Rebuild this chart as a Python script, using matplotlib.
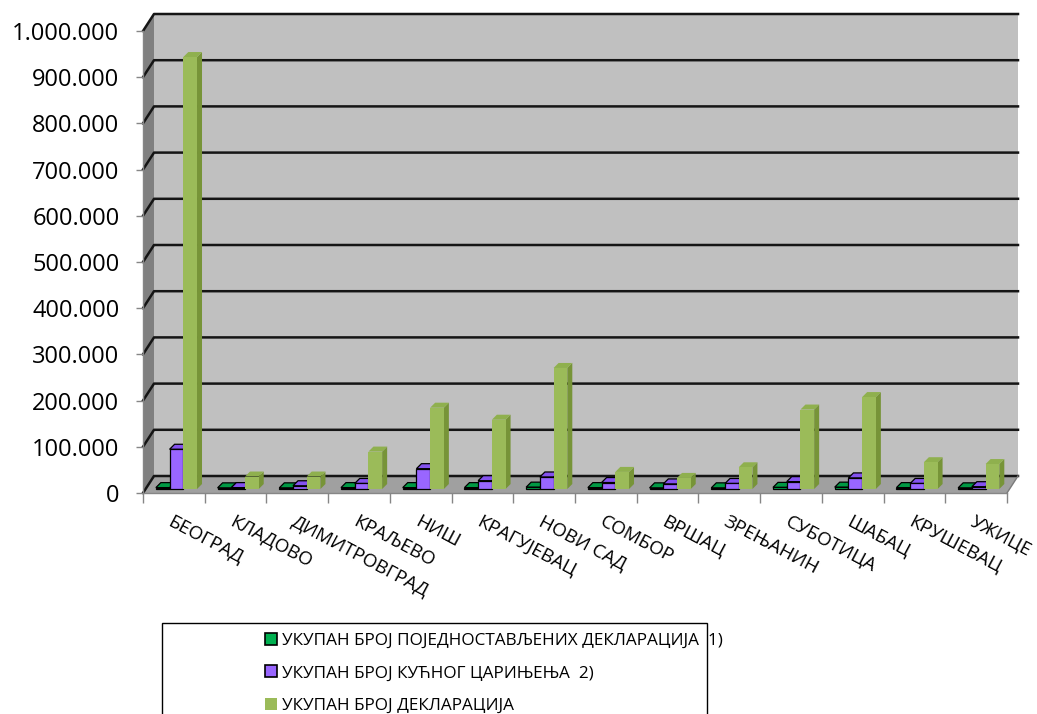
import matplotlib
matplotlib.use('Agg')
import matplotlib.pyplot as plt
from matplotlib.patches import Polygon, Rectangle, Patch
from matplotlib.lines import Line2D
from matplotlib.transforms import IdentityTransform, ScaledTranslation
from matplotlib.ticker import FuncFormatter
import numpy as np

plt.rcParams['font.family'] = ['Open Sans', 'DejaVu Sans']

cities = ['БЕОГРАД', 'КЛАДОВО', 'ДИМИТРОВГРАД', 'КРАЉЕВО', 'НИШ', 'КРАГУЈЕВАЦ',
          'НОВИ САД', 'СОМБОР', 'ВРШАЦ', 'ЗРЕЊАНИН', 'СУБОТИЦА', 'ШАБАЦ',
          'КРУШЕВАЦ', 'УЖИЦЕ']
simplified = [3000, 2500, 2500, 3000, 3000, 3000, 4000, 3000, 2500, 2500, 3500, 4000, 3000, 2500]
home = [86000, 3000, 7000, 12000, 44000, 18000, 26000, 14000, 11000, 12000, 16000, 24000, 12000, 5000]
total = [935000, 27000, 27000, 81000, 176000, 150000, 262000, 37000, 24000, 47000, 172000, 199000, 58000, 54000]

series_names = ['УКУПАН БРОЈ ПОЈЕДНОСТАВЉЕНИХ ДЕКЛАРАЦИЈА  1)',
                'УКУПАН БРОЈ КУЋНОГ ЦАРИЊЕЊА  2)',
                'УКУПАН БРОЈ ДЕКЛАРАЦИЈА']
y_ticks = list(range(0, 1_000_001, 100_000))

# styles: front, top, side, edge
styles = [
    ('#00B050', '#009944', '#006B30', 'black'),
    ('#9966FF', '#8452EE', '#6A3BC8', 'black'),
    ('#9BBB59', '#8FB04E', '#779438', 'none'),
]

W, H = 1037, 714
fig = plt.figure(figsize=(W / 100, H / 100), dpi=100)
ax = fig.add_axes([143 / W, (H - 493) / H, (1007 - 143) / W, (493 - 31) / H])
n = len(cities)
ax.set_xlim(0, n)
ax.set_ylim(0, 1_000_000)
ax.patch.set_visible(False)
for s in ['top', 'right']:
    ax.spines[s].set_visible(False)
for s in ['left', 'bottom']:
    ax.spines[s].set_color('#868686')
    ax.spines[s].set_linewidth(1.0)
    ax.spines[s].set_zorder(0.5)

DX, DY = 11, 17      # depth of the wall/floor (px)
DF = 0.235           # depth fraction of the bar fronts
BX, BY = 5, 5        # bar depth (px)
ident = IdentityTransform()


def P(x, y, d=0.0, ex=0.0, ey=0.0):
    px, py = ax.transData.transform((x, y))
    return (px + d * DX + ex, py + d * DY + ey)


def poly(pts, **kw):
    p = Polygon(pts, closed=True, transform=ident, clip_on=False, **kw)
    ax.add_artist(p)
    return p


# walls and floor
poly([P(0, 0, 1), P(n, 0, 1), P(n, 1e6, 1), P(0, 1e6, 1)], facecolor='#C0C0C0', edgecolor='none', zorder=0.1)
poly([P(0, 0, 0), P(0, 1e6, 0), P(0, 1e6, 1), P(0, 0, 1)], facecolor='#808080', edgecolor='none', zorder=0.1)
poly([P(0, 0, 0), P(n, 0, 0), P(n, 0, 1), P(0, 0, 1)], facecolor='#A0A0A0', edgecolor='none', zorder=0.15)

# gridlines
for yv in y_ticks:
    a, b, c = P(0, yv, 0), P(0, yv, 1), P(n, yv, 1)
    ax.add_artist(Line2D([a[0], b[0], c[0]], [a[1], b[1], c[1]], transform=ident,
                         color='#151515', lw=1.8, clip_on=False, zorder=0.2))
a, b = P(n, 0, 0), P(n, 0, 1)
ax.add_artist(Line2D([a[0], b[0]], [a[1], b[1]], transform=ident, color='#7A7A7A', lw=1.0,
                     clip_on=False, zorder=0.2))

# bars
w = 1 / 4.5
centers = np.arange(n) + 0.5
front_tr = ax.transData + ScaledTranslation(DF * DX / 100, DF * DY / 100, fig.dpi_scale_trans)
for k, vals in enumerate([simplified, home, total]):
    fc, tc, sc, ec = styles[k]
    x0s = centers + (k - 1.5) * w
    bars = ax.bar(x0s, vals, width=w, align='edge', facecolor=fc, edgecolor=ec,
                  linewidth=0.9, transform=front_tr, clip_on=False)
    for i, (bar, v) in enumerate(zip(bars, vals)):
        base = 2 + (i * 3 + k)
        bar.set_zorder(base + 0.5)
        x0, x1 = x0s[i], x0s[i] + w
        poly([P(x1, 0, DF), P(x1, v, DF), P(x1, v, DF, BX, BY), P(x1, 0, DF, BX, BY)],
             facecolor=sc, edgecolor=ec, lw=0.9, zorder=base + 0.3)
        poly([P(x0, v, DF), P(x1, v, DF), P(x1, v, DF, BX, BY), P(x0, v, DF, BX, BY)],
             facecolor=tc, edgecolor=ec, lw=0.9, zorder=base + 0.3)

ax.set_xlim(0, n)
ax.set_ylim(0, 1_000_000)

# y axis
ax.set_yticks(y_ticks)
ax.yaxis.set_major_formatter(FuncFormatter(lambda v, p: f"{int(v):,}".replace(',', '.')))
ax.tick_params(axis='y', length=5, width=1, color='#868686', pad=12, labelsize=17,
               labelcolor='black')

# x axis
ax.set_xticks(np.arange(n + 1))
ax.set_xticklabels([])
ax.tick_params(axis='x', which='major', length=7, width=1, color='#868686', direction='out')
ax.set_xticks(centers, minor=True)
ax.set_xticklabels(cities, minor=True)
ax.tick_params(axis='x', which='minor', length=0, pad=14, labelsize=13.5, labelcolor='black')
for lbl in ax.get_xticklabels(minor=True):
    lbl.set_rotation(-28)
    lbl.set_ha('left')
    lbl.set_va('top')
    lbl.set_rotation_mode('anchor')

# legend
handles = [Patch(facecolor=styles[k][0], edgecolor=styles[k][3], linewidth=1.2) for k in range(3)]
leg = fig.legend(handles, series_names, loc='upper left',
                 bbox_to_anchor=(265 / W, 1 - 633 / H), frameon=False, fontsize=12.3,
                 borderpad=0, handlelength=0.72, handleheight=0.72, handletextpad=0.3,
                 labelspacing=0.95, borderaxespad=0)
fig.add_artist(Rectangle((162, -10), 707 - 162, (H - 623) + 10, transform=ident,
                         facecolor='none', edgecolor='black', lw=1.0, clip_on=False))

fig.savefig('out.png', dpi=100)
